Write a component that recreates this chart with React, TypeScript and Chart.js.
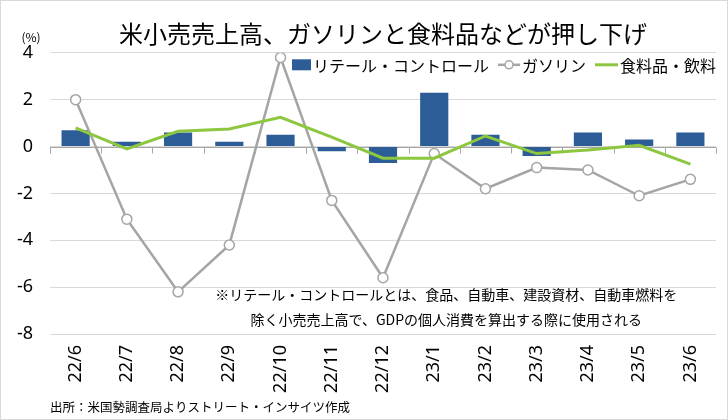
import React, { useEffect, useRef } from 'react';
import { Chart, registerables } from 'chart.js';

Chart.register(...registerables);

const categories = ['22/6', '22/7', '22/8', '22/9', '22/10', '22/11', '22/12', '23/1', '23/2', '23/3', '23/4', '23/5', '23/6'];
const retailControl = [0.7, 0.2, 0.6, 0.2, 0.5, -0.2, -0.7, 2.3, 0.5, -0.4, 0.6, 0.3, 0.6];
const gasoline = [2.0, -3.1, -6.2, -4.2, 3.8, -2.3, -5.6, -0.3, -1.8, -0.9, -1.0, -2.1, -1.4];
const foodBeverage = [0.8, -0.1, 0.65, 0.75, 1.25, 0.4, -0.5, -0.5, 0.45, -0.3, -0.15, 0.05, -0.75];
const yMin = -8;
const yMax = 4;
const yStep = 2;

const seriesNames = ['リテール・コントロール', 'ガソリン', '食料品・飲料'];
const TITLE = '米小売売上高、ガソリンと食料品などが押し下げ';
const NOTE_LINES = [
  '※リテール・コントロールとは、食品、自動車、建設資材、自動車燃料を',
  '除く小売売上高で、GDPの個人消費を算出する際に使用される',
];
const SOURCE = '出所：米国勢調査局よりストリート・インサイツ作成';
const UNIT = '(%)';

const JP = '"Noto Sans CJK JP", "Noto Sans", sans-serif';
const NUM = '"Noto Sans", "DejaVu Sans", sans-serif';

const BLUE = '#2C5D96';
const GRAY = '#A5A5A5';
const GREEN = '#8DC63F';

const decorPlugin = {
  id: 'decor',
  beforeDraw(chart: any) {
    const { ctx, width, height } = chart;
    ctx.save();
    ctx.fillStyle = '#ffffff';
    ctx.fillRect(0, 0, width, height);
    ctx.restore();
  },
  beforeDatasetsDraw(chart: any) {
    const { ctx, chartArea, scales } = chart;
    const x = scales.x;
    const y0 = Math.round(scales.y.getPixelForValue(0)) + 0.5;
    const n = categories.length;
    const step = (x.right - x.left) / n;
    ctx.save();
    ctx.strokeStyle = '#A6A6A6';
    ctx.lineWidth = 1;
    ctx.beginPath();
    ctx.moveTo(chartArea.left, y0);
    ctx.lineTo(chartArea.right, y0);
    for (let i = 0; i <= n; i++) {
      const px = Math.round(x.left + i * step) + 0.5;
      ctx.moveTo(px, y0);
      ctx.lineTo(px, y0 + 6);
    }
    ctx.stroke();
    ctx.restore();
  },
  afterDraw(chart: any) {
    const { ctx, chartArea, width, height } = chart;
    ctx.save();

    // unit label
    ctx.fillStyle = '#000';
    ctx.font = `12px ${JP}`;
    ctx.textAlign = 'center';
    ctx.textBaseline = 'middle';
    ctx.fillText(UNIT, chartArea.left - 19, chartArea.top - 15);

    // legend
    const datasets = chart.data.datasets;
    ctx.font = `16px ${JP}`;
    const markerW = [19, 22, 23];
    const gapAfter = 2;
    const gapBetween = 9;
    let total = 0;
    datasets.forEach((ds: any, i: number) => {
      total += markerW[i] + gapAfter + ctx.measureText(ds.label).width;
      if (i < datasets.length - 1) total += gapBetween;
    });
    let lx = chartArea.right - total;
    const cy = chartArea.top + 12;
    datasets.forEach((ds: any, i: number) => {
      const w = markerW[i];
      if (ds.type === 'bar') {
        ctx.fillStyle = ds.backgroundColor;
        ctx.fillRect(lx, cy - 5.5, w, 11);
      } else {
        ctx.strokeStyle = ds.borderColor;
        ctx.lineWidth = ds.borderWidth;
        ctx.beginPath();
        ctx.moveTo(lx, cy);
        ctx.lineTo(lx + w, cy);
        ctx.stroke();
        if (ds.pointRadius > 0) {
          ctx.beginPath();
          ctx.arc(lx + w / 2, cy, 4, 0, Math.PI * 2);
          ctx.fillStyle = ds.pointBackgroundColor;
          ctx.fill();
          ctx.lineWidth = ds.pointBorderWidth;
          ctx.strokeStyle = ds.pointBorderColor;
          ctx.stroke();
        }
      }
      lx += w + gapAfter;
      ctx.fillStyle = '#000';
      ctx.textAlign = 'left';
      ctx.textBaseline = 'middle';
      ctx.fillText(ds.label, lx, cy + 1);
      lx += ctx.measureText(ds.label).width + gapBetween;
    });

    // note
    ctx.font = `14px ${JP}`;
    ctx.textAlign = 'center';
    ctx.textBaseline = 'middle';
    ctx.fillStyle = '#000';
    const ncx = chartArea.left + chartArea.width * 0.595;
    ctx.fillText(NOTE_LINES[0], ncx, chartArea.bottom - 39);
    ctx.fillText(NOTE_LINES[1], ncx, chartArea.bottom - 14);

    // outer border
    ctx.strokeStyle = '#D9D9D9';
    ctx.lineWidth = 1;
    ctx.strokeRect(0.5, 0.5, width - 1, height - 1);
    ctx.restore();
  },
};

export default function App() {
  const canvasRef = useRef<HTMLCanvasElement | null>(null);

  useEffect(() => {
    const canvas = canvasRef.current;
    if (!canvas) return;
    const chart = new Chart(canvas, {
      type: 'bar',
      data: {
        labels: categories,
        datasets: [
          {
            type: 'bar',
            label: seriesNames[0],
            data: retailControl,
            backgroundColor: BLUE,
            borderWidth: 0,
            barPercentage: 0.55,
            categoryPercentage: 1.0,
            order: 3,
          } as any,
          {
            type: 'line',
            label: seriesNames[1],
            data: gasoline,
            borderColor: GRAY,
            borderWidth: 2.5,
            pointRadius: 5,
            pointBackgroundColor: '#ffffff',
            pointBorderColor: GRAY,
            pointBorderWidth: 1.5,
            tension: 0,
            order: 2,
          } as any,
          {
            type: 'line',
            label: seriesNames[2],
            data: foodBeverage,
            borderColor: GREEN,
            borderWidth: 3,
            pointRadius: 0,
            tension: 0,
            order: 1,
          } as any,
        ],
      },
      options: {
        responsive: false,
        animation: false,
        layout: { padding: { left: 0, right: 12, top: 0, bottom: 0 } },
        plugins: {
          legend: { display: false },
          tooltip: { enabled: false },
          title: {
            display: true,
            text: TITLE,
            fullSize: false,
            align: 'center',
            color: '#000',
            font: { family: JP, size: 24, weight: 'normal' },
            padding: { top: 19, bottom: 5 },
          },
          subtitle: {
            display: true,
            text: SOURCE,
            position: 'bottom',
            align: 'start',
            fullSize: false,
            color: '#000',
            font: { family: JP, size: 12.5, weight: 'normal' },
            padding: { top: 0, bottom: 5 },
          },
        },
        scales: {
          x: {
            type: 'category',
            offset: true,
            grid: { display: false, drawTicks: false },
            border: { display: false },
            ticks: {
              autoSkip: false,
              maxRotation: 90,
              minRotation: 90,
              padding: 11,
              color: '#000',
              font: { family: NUM, size: 18 },
            },
            afterFit(scale: any) {
              scale.height = 66;
            },
          },
          y: {
            min: yMin,
            max: yMax,
            ticks: {
              stepSize: yStep,
              padding: 17,
              color: '#000',
              font: { family: NUM, size: 18 },
            },
            grid: { color: '#D9D9D9', drawTicks: false, lineWidth: 1 },
            border: { display: false },
            afterFit(scale: any) {
              scale.width = 50;
            },
          },
        },
      },
      plugins: [decorPlugin],
    });
    return () => chart.destroy();
  }, []);

  return (
    <div style={{ position: 'fixed', left: 0, top: 0, width: 728, height: 420, background: '#fff' }}>
      <canvas ref={canvasRef} width={728} height={420} style={{ display: 'block' }} />
    </div>
  );
}
